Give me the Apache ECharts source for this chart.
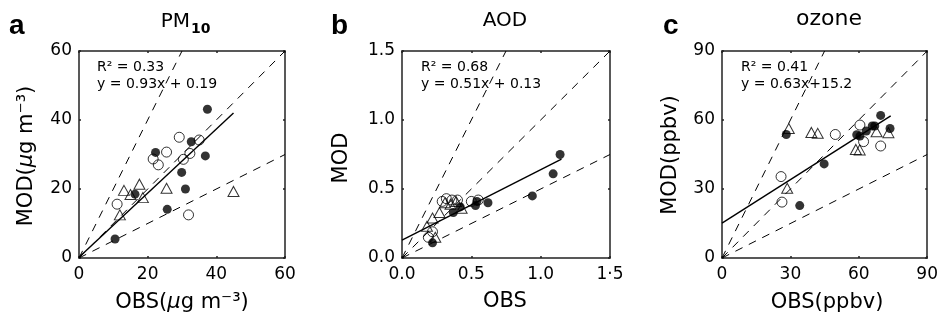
<!DOCTYPE html>
<html>
<head>
<meta charset="utf-8">
<script src="https://cdn.jsdelivr.net/npm/echarts@6/dist/echarts.min.js"></script>
<style>html,body{margin:0;padding:0;background:#fff}#c{width:941px;height:322px}</style>
</head>
<body>
<div id="c"></div>
<script>
// ---------- Panel a: PM10 ----------
const pmFilled = [[10.5,5.5],[16.3,18.5],[22.3,30.6],[25.7,14.1],[29.9,24.8],[31.0,20.0],[32.7,33.7],[36.8,29.6],[37.4,43.1]];
const pmOpen   = [[11.1,15.6],[21.6,28.7],[23.1,27.0],[25.5,30.7],[29.2,35.0],[30.4,28.6],[31.9,12.5],[32.3,30.3],[35.0,34.2]];
const pmTri    = [[11.9,12.5],[13.1,19.6],[15.0,18.4],[17.6,21.4],[18.6,17.5],[25.5,20.2],[45.0,19.3]];
const pmFit    = {slope:0.93, intercept:0.19, xmax:45};
const pmTicks  = ['0','20','40','60'];

// ---------- Panel b: AOD ----------
const aodFilled = [[0.22,0.11],[0.37,0.33],[0.42,0.37],[0.53,0.38],[0.54,0.41],[0.62,0.40],[0.94,0.45],[1.09,0.61],[1.14,0.75]];
const aodOpen   = [[0.19,0.15],[0.22,0.19],[0.29,0.41],[0.32,0.43],[0.36,0.42],[0.40,0.42],[0.50,0.41],[0.55,0.42]];
const aodTri    = [[0.18,0.23],[0.22,0.29],[0.27,0.33],[0.31,0.40],[0.35,0.39],[0.39,0.41],[0.43,0.36],[0.24,0.15]];
const aodFit    = {slope:0.51, intercept:0.13, xmax:1.15};
const aodTicksX = ['0.0','0.5','1.0','1\u00b75'];
const aodTicksY = ['0.0','0.5','1.0','1.5'];

// ---------- Panel c: ozone ----------
const o3Filled = [[28.2,53.7],[34.1,22.8],[44.8,40.9],[59.1,53.6],[60.5,53.0],[63.3,55.2],[65.9,57.4],[67.0,57.4],[69.6,62.0],[73.7,56.3]];
const o3Open   = [[25.9,35.4],[26.3,24.3],[49.7,53.7],[60.5,57.8],[62.1,50.6],[69.6,48.7]];
const o3Tri    = [[29.3,56.3],[28.6,30.3],[39.2,54.6],[42.0,54.2],[58.7,47.2],[60.4,47.0],[67.8,54.9],[73.0,54.5]];
const o3Fit    = {slope:0.63, intercept:15.2, xmax:74};
const o3Ticks  = ['0','30','60','90'];

// reference ratio lines 2:1, 1:1, 1:2 (as fractions of axis max)
const ratioLines = [[0.5,1],[1,1],[1,0.5]];

const panels = [
  {max:60, step:20, filled:pmFilled, open:pmOpen, tri:pmTri, fit:pmFit, tx:pmTicks, ty:pmTicks},
  {max:1.5, step:0.5, filled:aodFilled, open:aodOpen, tri:aodTri, fit:aodFit, tx:aodTicksX, ty:aodTicksY},
  {max:90, step:30, filled:o3Filled, open:o3Open, tri:o3Tri, fit:o3Fit, tx:o3Ticks, ty:o3Ticks}
];
const gridPos = [
  {left:79, top:51, width:206, height:207},
  {left:402, top:51, width:208, height:207},
  {left:722, top:51, width:208, height:207}
];
const FONT = 'DejaVu Sans';
const axisLineStyle = {color:'#222', width:1.5};

const grids=[], xAxes=[], yAxes=[], series=[];
panels.forEach((p,i)=>{
  grids.push(Object.assign({containLabel:false}, gridPos[i]));
  const base = {gridIndex:i, type:'value', min:0, max:p.max, interval:p.step,
    splitLine:{show:false}, axisLine:{show:true, onZero:false, lineStyle:axisLineStyle},
    axisTick:{show:true, inside:true, length:2, lineStyle:{color:'#222', width:1.5}}};
  xAxes.push(Object.assign({}, base, {position:'bottom',
    axisLabel:{fontFamily:FONT, fontSize:17, color:'#000', margin:8,
      formatter:(v)=>p.tx[Math.round(v/p.step)]}}));
  xAxes.push(Object.assign({}, base, {position:'top', axisLabel:{show:false}}));
  yAxes.push(Object.assign({}, base, {position:'left',
    axisLabel:{fontFamily:FONT, fontSize:17, color:'#000', margin:7,
      formatter:(v)=>p.ty[Math.round(v/p.step)]}}));
  yAxes.push(Object.assign({}, base, {position:'right', axisLabel:{show:false}}));
  const xi = i*2, yi = i*2;
  ratioLines.forEach(r=>{
    series.push({type:'line', xAxisIndex:xi, yAxisIndex:yi, symbol:'none', silent:true,
      data:[[0,0],[r[0]*p.max, r[1]*p.max]],
      lineStyle:{color:'#000', width:1, type:[8,7]}});
  });
  series.push({type:'line', xAxisIndex:xi, yAxisIndex:yi, symbol:'none', silent:true,
    data:[[0,p.fit.intercept],[p.fit.xmax, p.fit.slope*p.fit.xmax+p.fit.intercept]],
    lineStyle:{color:'#000', width:1.4}});
  series.push({type:'scatter', xAxisIndex:xi, yAxisIndex:yi, data:p.tri, symbol:'triangle', symbolSize:[11,10],
    itemStyle:{color:'rgba(0,0,0,0)', borderColor:'#000', borderWidth:1}});
  series.push({type:'scatter', xAxisIndex:xi, yAxisIndex:yi, data:p.open, symbol:'circle', symbolSize:10,
    itemStyle:{color:'rgba(0,0,0,0)', borderColor:'#000', borderWidth:1}});
  series.push({type:'scatter', xAxisIndex:xi, yAxisIndex:yi, data:p.filled, symbol:'circle', symbolSize:9,
    itemStyle:{color:'#000', borderColor:'#000', borderWidth:0}});
});

function txt(x,y,text,opt){
  return {type:'text', x:x, y:y, silent:true, rotation:opt.rotation||0,
    style:{text:text, fill:'#000', font:opt.font, align:opt.align||'center', verticalAlign:opt.va||'middle'}};
}
const labFont = 'bold 28px "Liberation Sans"';
const titleFont = '20px "DejaVu Sans"';
const axFont = '21px "DejaVu Sans"';
const eqFont = '14px "DejaVu Sans"';
const richAx = {
  n:{fontFamily:FONT, fontSize:21, color:'#000'},
  mu:{fontFamily:FONT, fontSize:21, fontStyle:'italic', color:'#000'}
};
const graphics = [
  txt(9,26,'a',{font:labFont, align:'left'}),
  txt(331,26,'b',{font:labFont, align:'left'}),
  txt(663,26,'c',{font:labFont, align:'left'}),
  txt(190,22,'PM',{font:titleFont, align:'right'}),
  txt(191,29,'10',{font:'bold 14px "DejaVu Sans"', align:'left'}),
  txt(505,21,'AOD',{font:titleFont}),
  txt(829,19,'ozone',{font:'22px "DejaVu Sans"'}),
  // y axis titles
  {type:'text', x:27, y:156, rotation:Math.PI/2, silent:true, style:{text:'{n|MOD(}{mu|\u03bc}{n|g m\u207b\u00b3)}', align:'center', verticalAlign:'middle', rich:richAx}},
  txt(342,158,'MOD',{font:axFont, rotation:Math.PI/2}),
  txt(671,155,'MOD(ppbv)',{font:axFont, rotation:Math.PI/2}),
  // x axis titles
  {type:'text', x:182, y:303, silent:true, style:{text:'{n|OBS(}{mu|\u03bc}{n|g m\u207b\u00b3)}', align:'center', verticalAlign:'middle', rich:richAx}},
  txt(505,302,'OBS',{font:axFont}),
  txt(827,303,'OBS(ppbv)',{font:axFont}),
  // equations
  txt(97,67,'R\u00b2 = 0.33',{font:eqFont, align:'left'}),
  txt(97,84,'y = 0.93x + 0.19',{font:eqFont, align:'left'}),
  txt(421,67,'R\u00b2 = 0.68',{font:eqFont, align:'left'}),
  txt(421,84,'y = 0.51x + 0.13',{font:eqFont, align:'left'}),
  txt(741,67,'R\u00b2 = 0.41',{font:eqFont, align:'left'}),
  txt(741,84,'y = 0.63x+15.2',{font:eqFont, align:'left'})
];

const chart = echarts.init(document.getElementById('c'), null, {renderer:'canvas'});
chart.setOption({animation:false, backgroundColor:'#fff', grid:grids, xAxis:xAxes, yAxis:yAxes, series:series, graphic:graphics});
</script>
</body>
</html>
